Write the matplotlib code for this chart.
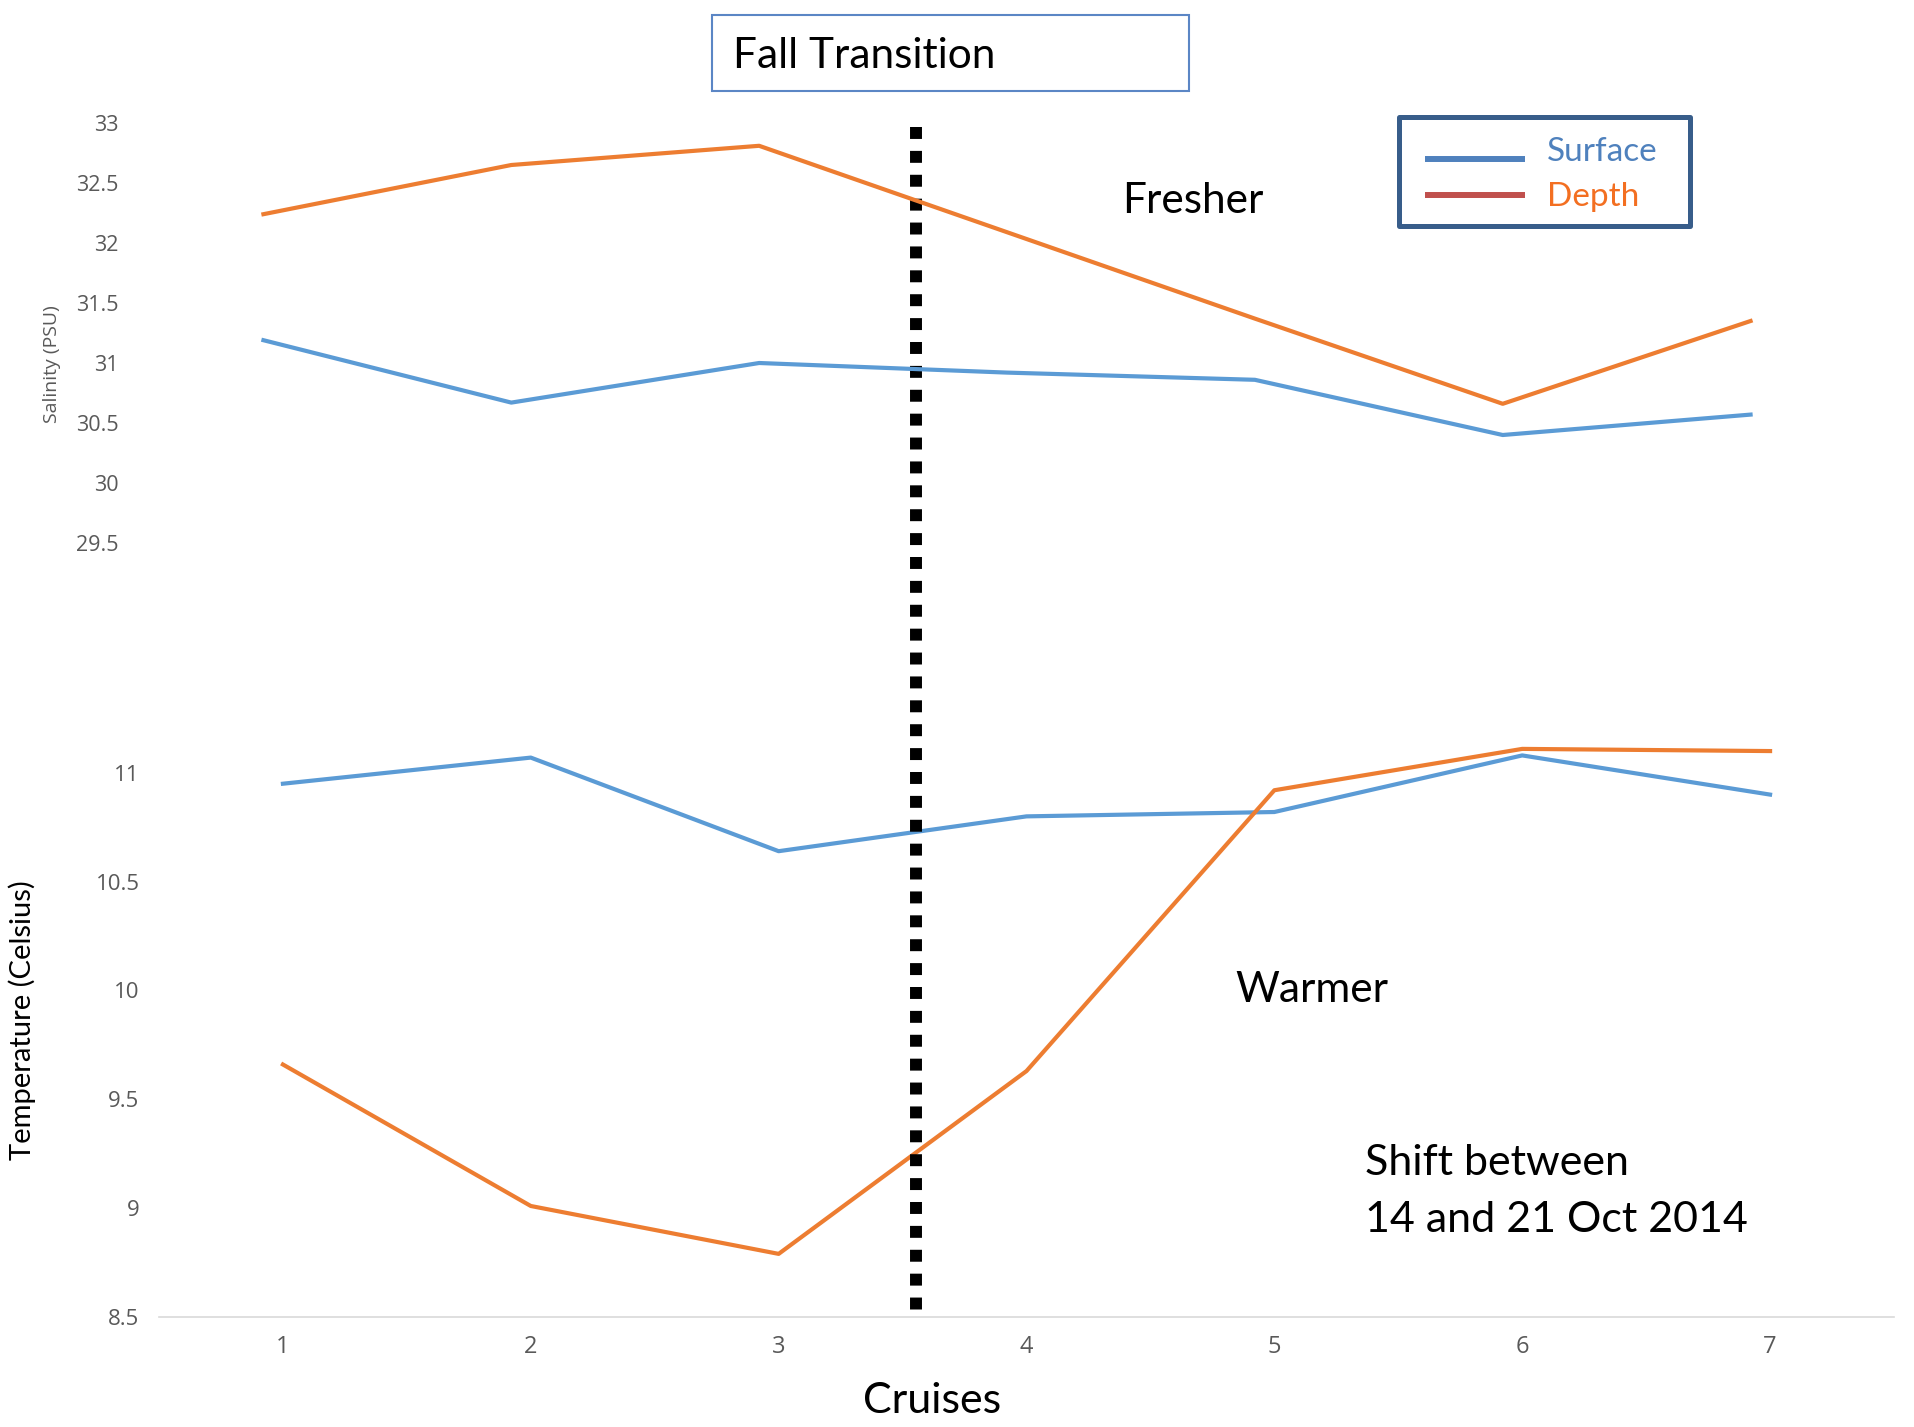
import matplotlib
matplotlib.use("Agg")
import matplotlib.pyplot as plt
from matplotlib.patches import Rectangle
from matplotlib.lines import Line2D
from matplotlib.transforms import blended_transform_factory

# cruceros 1..7
cruises = [1, 2, 3, 4, 5, 6, 7]

# salinidad (PSU)
sal_surface = [31.19, 30.67, 31.00, 30.92, 30.86, 30.40, 30.57]
sal_depth = [32.24, 32.65, 32.81, 32.09, 31.37, 30.66, 31.35]

# temperatura (Celsius)
temp_surface = [10.95, 11.07, 10.64, 10.80, 10.82, 11.08, 10.90]
temp_depth = [9.66, 9.01, 8.79, 9.63, 10.92, 11.11, 11.10]

sal_ticks = [29.5, 30, 30.5, 31, 31.5, 32, 32.5, 33]
temp_ticks = [8.5, 9, 9.5, 10, 10.5, 11]
transition_x = 3.556

BLUE = "#5B9BD5"
ORANGE = "#ED7D31"
GREY = "#595959"
MAIN_FONT = "Lato"
TICK_FONT = "Open Sans"

W, H = 1915, 1427
fig = plt.figure(figsize=(W / 100, H / 100), dpi=100)


def box(x0, y0, x1, y1):
    # pixeles -> fraccion de figura
    return [x0 / W, 1 - y1 / H, (x1 - x0) / W, (y1 - y0) / H]


# --- grafico de temperatura (abajo) ---
ax_t = fig.add_axes(box(159, 664, 1894, 1317))
ax_t.plot(cruises, temp_surface, color=BLUE, lw=3, solid_joinstyle="round")
ax_t.plot(cruises, temp_depth, color=ORANGE, lw=3, solid_joinstyle="round")
ax_t.set_xlim(0.5, 7.5)
ax_t.set_ylim(8.5, 11.5)
ax_t.set_yticks(temp_ticks)
ax_t.set_yticklabels([f"{v:g}" for v in temp_ticks], family=TICK_FONT,
                     fontsize=16, color=GREY)
ax_t.set_xticks(cruises)
ax_t.set_xticklabels([str(c) for c in cruises], family=TICK_FONT,
                     fontsize=17, color=GREY)
ax_t.tick_params(length=0)
ax_t.tick_params(axis="y", pad=14)
ax_t.tick_params(axis="x", pad=13)
for s in ["top", "right", "left"]:
    ax_t.spines[s].set_visible(False)
ax_t.spines["bottom"].set_color("#D9D9D9")
ax_t.spines["bottom"].set_linewidth(1.2)
ax_t.patch.set_alpha(0)

# linea de transicion (de arriba hacia abajo)
trans = blended_transform_factory(ax_t.transData, ax_t.transAxes)
ax_t.plot([transition_x, transition_x], [1.8224, 0.003], transform=trans,
          color="black", lw=8.6, linestyle=(0, (1, 1)),
          dash_capstyle="butt", clip_on=False, zorder=5)

# --- grafico de salinidad (arriba) ---
ax_s = fig.add_axes(box(139.5, 123, 1874.5, 543))
ax_s.plot(cruises, sal_surface, color=BLUE, lw=3, solid_joinstyle="round")
ax_s.plot(cruises, sal_depth, color=ORANGE, lw=3, solid_joinstyle="round")
ax_s.set_xlim(0.5, 7.5)
ax_s.set_ylim(29.5, 33)
ax_s.set_yticks(sal_ticks)
ax_s.set_yticklabels([f"{v:g}" for v in sal_ticks], family=TICK_FONT,
                     fontsize=15.5, color=GREY)
ax_s.set_xticks([])
ax_s.tick_params(length=0, axis="y", pad=15)
for s in ax_s.spines.values():
    s.set_visible(False)
ax_s.patch.set_alpha(0)

# etiquetas de ejes
fig.text(52 / W, 1 - 364 / H, "Salinity (PSU)", rotation=90, ha="center",
         va="center", family=TICK_FONT, fontsize=14, color=GREY)
fig.text(22 / W, 1 - 1020 / H, "Temperature (Celsius)", rotation=90,
         ha="center", va="center", family=MAIN_FONT, fontsize=21,
         color="black")
fig.text(932 / W, 1 - 1401 / H, "Cruises", ha="center", va="center",
         family=MAIN_FONT, fontsize=31, color="black")

# cuadro titulo
fig.add_artist(Rectangle((712 / W, 1 - 91 / H), (1189 - 712) / W,
                         (91 - 15) / H, transform=fig.transFigure,
                         fill=False, edgecolor="#5B86C5", lw=1.5))
fig.text(733 / W, 1 - 68 / H, "Fall Transition", ha="left", va="baseline",
         family=MAIN_FONT, fontsize=30.5)

# anotaciones
fig.text(1122 / W, 1 - 213 / H, "Fresher", ha="left", va="baseline",
         family=MAIN_FONT, fontsize=30.5)
fig.text(1235 / W, 1 - 1002 / H, "Warmer", ha="left", va="baseline",
         family=MAIN_FONT, fontsize=30.5)
fig.text(1365 / W, 1 - 1175 / H, "Shift between", ha="left", va="baseline",
         family=MAIN_FONT, fontsize=31)
fig.text(1365 / W, 1 - 1232 / H, "14 and 21 Oct 2014", ha="left",
         va="baseline", family=MAIN_FONT, fontsize=31)

# leyenda hecha a mano
fig.add_artist(Rectangle((1399 / W, 1 - 226 / H), (1690 - 1399) / W,
                         (226 - 117) / H, transform=fig.transFigure,
                         fill=False, edgecolor="#385D8A", lw=3.6,
                         joinstyle="round"))
fig.add_artist(Line2D([1425 / W, 1525 / W], [1 - 159 / H, 1 - 159 / H],
                      transform=fig.transFigure, color="#4F81BD", lw=4.3,
                      solid_capstyle="butt"))
fig.add_artist(Line2D([1425 / W, 1525 / W], [1 - 195 / H, 1 - 195 / H],
                      transform=fig.transFigure, color="#C0504D", lw=4.3,
                      solid_capstyle="butt"))
fig.text(1547 / W, 1 - 152 / H, "Surface", ha="left", va="center",
         family=MAIN_FONT, fontsize=24, color="#4F81BD")
fig.text(1547 / W, 1 - 197 / H, "Depth", ha="left", va="center",
         family=MAIN_FONT, fontsize=24, color="#F36F21")

fig.savefig("out.png", dpi=100)
